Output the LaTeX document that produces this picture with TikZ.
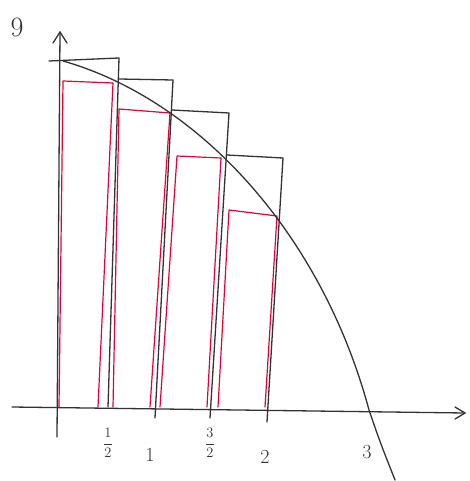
\documentclass[tikz,border=0pt]{standalone}
\begin{document}
\begin{tikzpicture}[x=1pt,y=-1pt,
  ink/.style={draw=black!80,line width=1.3pt,line cap=round,line join=round},
  redink/.style={draw=red!75!magenta!90!black,line width=1.2pt,line cap=round,line join=round},
  lbl/.style={text=black!80,inner sep=0pt,font=\fontsize{20}{20}\selectfont}]
\useasboundingbox[fill=white] (0,0) rectangle (470,481);
% axes
\draw[ink] (12,407) -- (465,413);
\draw[ink] (455,407) -- (465,413) -- (455,419);
\draw[ink] (60,32) -- (57,437);
\draw[ink] (53,43) -- (60,32) -- (67,43);
% red lower rectangles
\draw[redink] (59,407) -- (63,81) -- (113,83) -- (98,407);
\draw[redink] (113,407) -- (119,109) -- (170,113) -- (150,407);
\draw[redink] (160,407) -- (177,156) -- (221,158) -- (207,407);
\draw[redink] (218,407) -- (229,210) -- (277,216) -- (265,407);
% black upper rectangles
\draw[ink] (49,61) -- (119,58) -- (108,407);
\draw[ink] (119,79) -- (173,80) -- (155,418);
\draw[ink] (172,110) -- (229,113) -- (210,418);
\draw[ink] (227,155) -- (283,158) -- (267,422);
% curve
\coordinate (c0) at (63,61);
\coordinate (c1) at (369,410);
\coordinate (c2) at (395,480);
\draw[ink] (c0) .. controls (200,100) and (322,235) .. (c1) .. controls (380,442) .. (c2);
% labels
\node[lbl,font=\fontsize{28}{28}\selectfont] (nine) at (17,27) {9};
\node[lbl,font=\fontsize{14}{14}\selectfont] (half) at (108,443) {$\displaystyle\frac{1}{2}$};
\node[lbl] (one) at (150,455) {1};
\node[lbl,font=\fontsize{14}{14}\selectfont] (threehalf) at (210,443) {$\displaystyle\frac{3}{2}$};
\node[lbl] (two) at (265,457) {2};
\node[lbl] (three) at (367,452) {3};
\end{tikzpicture}
\end{document}
